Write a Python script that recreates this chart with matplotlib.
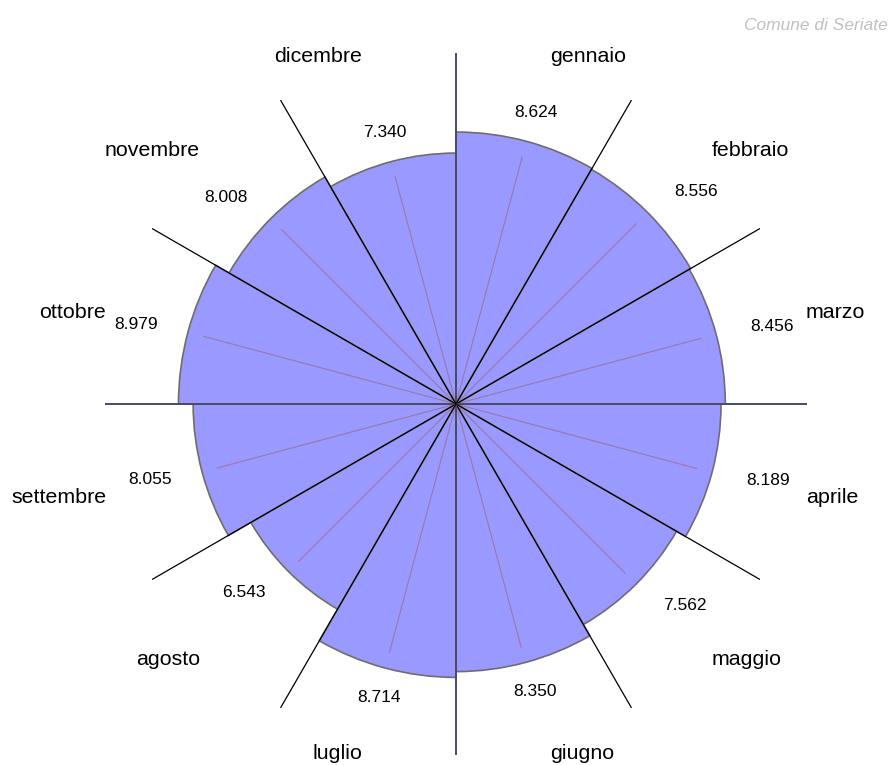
#!/usr/bin/env python
"""Monthly rose chart (Comune di Seriate) - area-proportional polar bars."""
import numpy as np
import matplotlib

matplotlib.use("Agg")
import matplotlib.pyplot as plt

months = ["gennaio", "febbraio", "marzo", "aprile", "maggio", "giugno",
          "luglio", "agosto", "settembre", "ottobre", "novembre", "dicembre"]
values = [8.624, 8.556, 8.456, 8.189, 7.562, 8.350,
          8.714, 6.543, 8.055, 8.979, 8.008, 7.340]
value_labels = ["8.624", "8.556", "8.456", "8.189", "7.562", "8.350",
                "8.714", "6.543", "8.055", "8.979", "8.008", "7.340"]
credit = "Comune di Seriate"

plt.rcParams["font.family"] = ["Liberation Sans", "DejaVu Sans"]

W, H = 891, 765
fig = plt.figure(figsize=(W / 100, H / 100), dpi=100)
R_PX = 351          # outer radius of the spokes in pixels
CX, CY = 456, 404   # centre in pixels (from top-left)
ax = fig.add_axes([(CX - R_PX) / W, (H - CY - R_PX) / H, 2 * R_PX / W, 2 * R_PX / H],
                  projection="polar")
ax.set_theta_zero_location("N")
ax.set_theta_direction(-1)

n = len(values)
step = 2 * np.pi / n
mids = np.arange(n) * step + step / 2
radii = np.sqrt(values)   # area proportional to the value
rmax = 3.79
px = R_PX / rmax          # pixels per radial unit
pt = 72 / 100             # points per pixel

ax.bar(mids, radii, width=step, bottom=0, color="#9999ff",
       edgecolor="#6e6e6e", linewidth=1.2, zorder=2)

# thin lines in the middle of each sector
for t, r in zip(mids, radii):
    ax.plot([t, t], [0, r * 0.94], color="#9a78a8", lw=0.8, zorder=3)

# spokes
for i in range(n):
    t = i * step
    if i % 3 == 0:
        ax.plot([t, t], [0, rmax], color="#4a4a66", lw=1.4, zorder=4)
    else:
        ax.plot([t, t], [0, rmax], color="black", lw=0.9, zorder=4)

# month names
for t, name in zip(mids, months):
    ha = "left" if np.sin(t) > 0 else "right"
    dy = -2 if np.cos(t) > 0 else 0
    ax.annotate(name, xy=(t, 362 / px), xytext=(0, dy * pt), textcoords="offset points",
                ha=ha, va="center", fontsize=15.4, zorder=5, annotation_clip=False)

# value labels
for t, r, lab in zip(mids, radii, value_labels):
    s = np.sin(t)
    if abs(s) < 0.5:
        ha, dx = "center", 2
    elif s > 0:
        ha, dx = "left", 5.5
    else:
        ha, dx = "right", -1.5
    ax.annotate(lab, xy=(t, r + 30 / px), xytext=(dx * pt, 0), textcoords="offset points",
                ha=ha, va="center", fontsize=12.5, zorder=5, annotation_clip=False)

ax.set_ylim(0, rmax)
ax.set_xticks([])
ax.set_yticks([])
ax.grid(False)
ax.spines["polar"].set_visible(False)
ax.patch.set_alpha(0)

fig.text(888 / W, 1 - 25 / H, credit, ha="right", va="center", fontsize=12.5,
         style="italic", color="#c0c0c0")

fig.savefig("out.png", dpi=100, facecolor="white")
